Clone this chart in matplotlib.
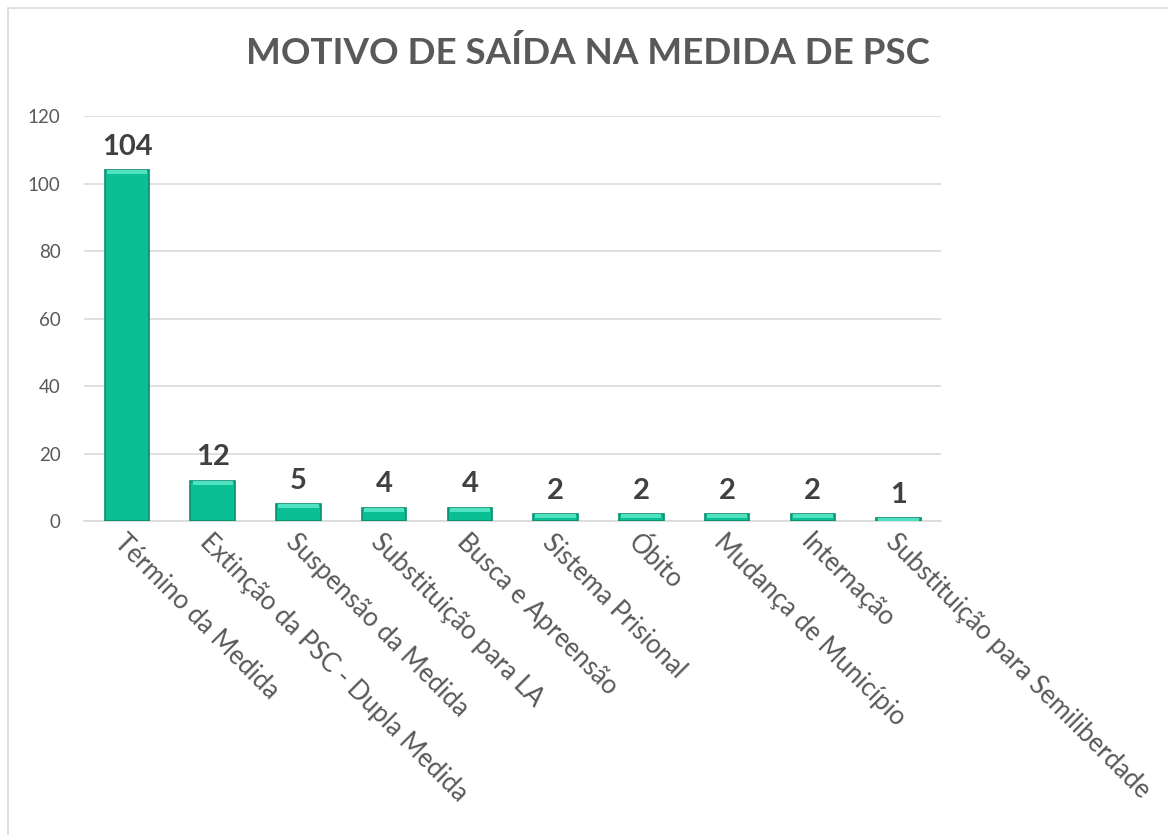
import matplotlib.pyplot as plt
from matplotlib.patches import Rectangle

categorias = ["Término da Medida", "Extinção da PSC - Dupla Medida", "Suspensão da Medida",
              "Substituição para LA", "Busca e Apreensão", "Sistema Prisional", "Óbito",
              "Mudança de Município", "Internação", "Substituição para Semiliberdade"]
valores = [104, 12, 5, 4, 4, 2, 2, 2, 2, 1]

plt.rcParams['font.family'] = ['Lato', 'DejaVu Sans']

fig = plt.figure(figsize=(11.68, 8.35), dpi=100)
ax = fig.add_axes([0.072, 0.376, 0.734, 0.485])

x = list(range(len(valores)))
ax.bar(x, valores, width=0.52, color='#0ABF94', edgecolor='#0B8E6F', linewidth=1.2, zorder=3)
# light bevel on top of each bar
ax.bar(x, [min(v, 1.2) for v in valores], bottom=[v - min(v, 1.2) for v in valores],
       width=0.47, color='#4FE3C1', linewidth=0, zorder=4)

for xi, v in zip(x, valores):
    ax.text(xi, v + 3, str(v), ha='center', va='bottom', fontsize=21,
            fontweight='bold', color='#404040')

ax.set_xlim(-0.5, len(valores) - 0.5)
ax.set_ylim(0, 120)
ax.set_yticks(range(0, 121, 20))
ax.yaxis.grid(True, color='#D9D9D9', linewidth=1.2, zorder=0)
ax.tick_params(axis='both', length=0, labelsize=13.5, labelcolor='#595959')
ax.tick_params(axis='y', pad=17)
for s in ['top', 'right', 'left']:
    ax.spines[s].set_visible(False)
ax.spines['bottom'].set_color('#D9D9D9')
ax.spines['bottom'].set_linewidth(1.2)

ax.set_xticks(x)
ax.set_xticklabels(categorias, rotation=-45, ha='left', va='top',
                   rotation_mode='anchor', fontsize=18.5)
ax.tick_params(axis='x', pad=6)

fig.text(0.503, 0.937, "MOTIVO DE SAÍDA NA MEDIDA DE PSC", ha='center', va='center',
         fontsize=26.5, fontweight='bold', color='#595959')

fig.patches.append(Rectangle((8 / 1168, -0.01), 1.1, 1 - 8 / 835 + 0.01,
                             transform=fig.transFigure, fill=False,
                             edgecolor='#D9D9D9', linewidth=1.2))

fig.savefig('out.png', dpi=100, facecolor='white')
